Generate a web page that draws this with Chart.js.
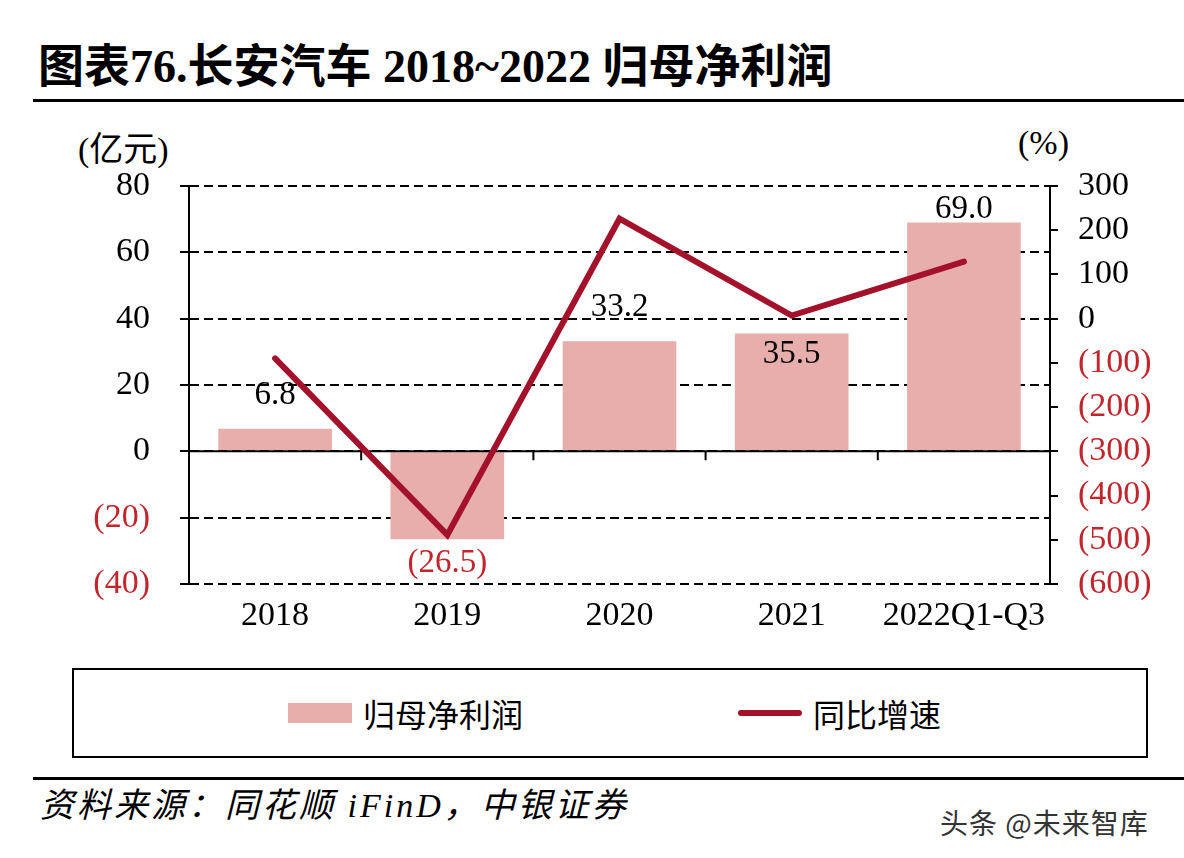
<!DOCTYPE html>
<html>
<head>
<meta charset="utf-8">
<script src="https://cdn.jsdelivr.net/npm/chart.js@4.4.0/dist/chart.umd.min.js"></script>
<style>
  html, body { margin: 0; padding: 0; background: #fff; }
  body { width: 1184px; height: 858px; position: relative; overflow: hidden;
         font-family: "Liberation Serif", "Noto Sans CJK SC", serif; color: #000; }
  .abs { position: absolute; white-space: nowrap; }
  #title { left: 38px; top: 40px; font-size: 46px; font-weight: bold; line-height: 54px; }
  .rule { position: absolute; left: 33px; right: 0; height: 3px; background: #000; }
  #chartBox { position: absolute; left: 0; top: 160px; width: 1184px; height: 480px; }
  #unitL { left: 78px; top: 131px; font-size: 34px; line-height: 38px; }
  #unitR { left: 1018px; top: 124px; font-size: 34px; line-height: 38px; }
  #legend { position: absolute; left: 72px; top: 668px; width: 1072px; height: 86px; border: 2px solid #000; }
  .lg { position: absolute; top: 24px; font-size: 32px; line-height: 38px; font-family: "Noto Sans CJK SC", sans-serif; }
  #source { left: 40px; top: 786px; font-size: 34px; line-height: 40px; font-style: italic; letter-spacing: 3px;
            font-family: "Liberation Serif", "Noto Sans CJK SC", serif; }
  #mark { left: 940px; top: 805px; font-size: 28px; line-height: 34px; color: #333; letter-spacing: 1px;
          font-family: "Noto Sans CJK SC", sans-serif; }
</style>
</head>
<body>
<div id="title" class="abs">图表76.长安汽车 2018~2022 归母净利润</div>
<div class="rule" style="top:99px"></div>
<div id="unitL" class="abs">(亿元)</div>
<div id="unitR" class="abs">(%)</div>
<div id="chartBox"><canvas id="chart"></canvas></div>
<div id="legend">
  <div style="position:absolute;left:214px;top:33px;width:64px;height:20px;background:#e7aeab"></div>
  <div class="lg" style="left:289px">归母净利润</div>
  <div style="position:absolute;left:664px;top:40px;width:64px;height:6px;border-radius:3px;background:#a3122a"></div>
  <div class="lg" style="left:739px">同比增速</div>
</div>
<div class="rule" style="top:777px"></div>
<div id="source" class="abs">资料来源：同花顺 iFinD，中银证券</div>
<div id="mark" class="abs">头条 @未来智库</div>

<script>
const categories = ["2018", "2019", "2020", "2021", "2022Q1-Q3"];
const netProfit = [6.8, -26.5, 33.2, 35.5, 69.0];
const growthRate = [-90, -489, 226, 7, 129];
const leftTicks = { min: -40, max: 80, step: 20 };
const rightTicks = { min: -600, max: 300, step: 100 };

const BAR_COLOUR = "#e7aeab";
const LINE_COLOUR = "#a3122a";
const NEG_COLOUR = "#c0262c";
const TICK_FONT = { family: "'Liberation Serif', serif", size: 34 };

function fmt(v, digits) {
  const s = Math.abs(v).toFixed(digits);
  return v < 0 ? "(" + s + ")" : s;
}

// fixed axis widths; drop the label padding so the plot area sits where the original does
function fitY(width) {
  return (s) => {
    s.width = width;
    s.paddingTop = 0;
    s.paddingBottom = 0;
  };
}

// zero line, category ticks and bar value labels
const overlay = {
  id: "overlay",
  afterDatasetDraw(chart, args) {
    if (args.meta.type !== "bar") return;
    const { ctx, chartArea, scales: { x, y } } = chart;
    const y0 = y.getPixelForValue(0);
    ctx.save();
    ctx.strokeStyle = "#000";
    ctx.lineWidth = 2;
    ctx.beginPath();
    ctx.moveTo(chartArea.left, y0);
    ctx.lineTo(chartArea.right, y0);
    for (let i = 1; i < categories.length; i++) {
      const bx = (x.getPixelForValue(i - 1) + x.getPixelForValue(i)) / 2;
      ctx.moveTo(bx, y0);
      ctx.lineTo(bx, y0 + 9);
    }
    ctx.stroke();
    ctx.restore();
  },
  afterDatasetsDraw(chart, args, opts) {
    const { ctx, scales: { x, y } } = chart;
    ctx.save();
    ctx.font = "33px 'Liberation Serif', serif";
    ctx.textAlign = "center";
    ctx.textBaseline = "middle";
    netProfit.forEach((v, i) => {
      const px = x.getPixelForValue(i);
      const end = y.getPixelForValue(v);
      const off = opts.offsets[i];
      const py = v >= 0 ? end - off : end + off;
      ctx.fillStyle = v < 0 ? NEG_COLOUR : "#000";
      ctx.fillText(fmt(v, 1), px, py);
    });
    ctx.restore();
  },
};

new Chart(document.getElementById("chart"), {
  data: {
    labels: categories,
    datasets: [
      {
        type: "line",
        label: "同比增速",
        data: growthRate,
        yAxisID: "y1",
        borderColor: LINE_COLOUR,
        borderWidth: 6,
        borderCapStyle: "round",
        borderJoinStyle: "miter",
        pointRadius: 0,
        tension: 0,
        order: 0,
      },
      {
        type: "bar",
        label: "归母净利润",
        data: netProfit,
        yAxisID: "y",
        backgroundColor: BAR_COLOUR,
        barPercentage: 0.66,
        categoryPercentage: 1,
        order: 1,
      },
    ],
  },
  plugins: [overlay],
  options: {
    responsive: true,
    maintainAspectRatio: false,
    animation: false,
    events: [],
    layout: { padding: { top: 26, left: 0, right: 0, bottom: 0 } },
    plugins: {
      legend: { display: false },
      tooltip: { enabled: false },
      overlay: { offsets: [33, 24, 34, -21, 13] },
    },
    scales: {
      x: {
        grid: { display: false },
        border: { display: false },
        ticks: { color: "#000", font: TICK_FONT, padding: 4, maxRotation: 0, autoSkip: false },
        afterFit: (s) => { s.height = 56; },
      },
      y: {
        position: "left",
        min: leftTicks.min,
        max: leftTicks.max,
        ticks: {
          stepSize: leftTicks.step,
          autoSkip: false,
          font: TICK_FONT,
          padding: 30,
          color: (c) => (c.tick.value < 0 ? NEG_COLOUR : "#000"),
          callback: (v) => fmt(v, 0),
        },
        grid: { color: "#000", lineWidth: 2, tickLength: 9, tickBorderDash: [] },
        border: { display: true, color: "#000", width: 2, dash: [9, 5] },
        afterFit: fitY(189),
      },
      y1: {
        position: "right",
        min: rightTicks.min,
        max: rightTicks.max,
        ticks: {
          stepSize: rightTicks.step,
          autoSkip: false,
          font: TICK_FONT,
          padding: 20,
          color: (c) => (c.tick.value < 0 ? NEG_COLOUR : "#000"),
          callback: (v) => fmt(v, 0),
        },
        grid: { drawOnChartArea: false, color: "#000", lineWidth: 2, tickLength: 8, tickBorderDash: [] },
        border: { display: true, color: "#000", width: 2 },
        afterFit: fitY(134),
      },
    },
  },
});
</script>
</body>
</html>
